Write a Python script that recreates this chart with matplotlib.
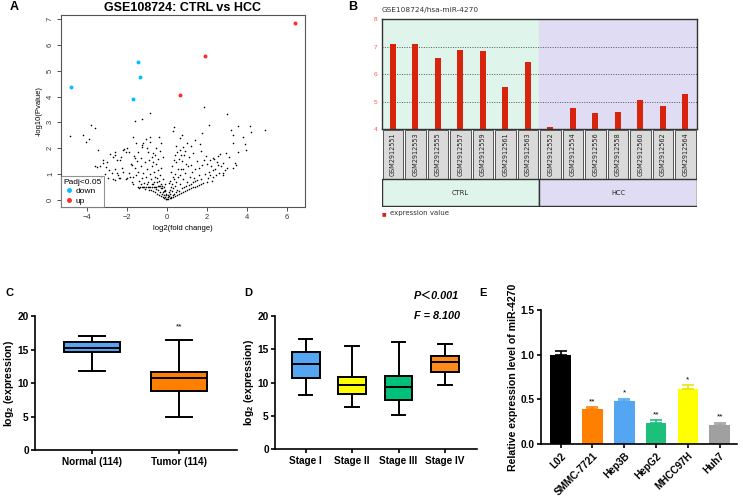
import matplotlib
matplotlib.use('Agg')
import matplotlib.pyplot as plt
from matplotlib.patches import Rectangle
from matplotlib.lines import Line2D

plt.rcParams['font.family'] = ['Liberation Sans', 'DejaVu Sans']
plt.rcParams['mathtext.default'] = 'regular'

# ---------------- Panel A data (volcano) ----------------
down_x = [-4.79, -1.42, -1.35, -1.70]
down_y = [4.35, 5.34, 4.75, 3.90]
up_x = [6.42, 1.90, 0.67]
up_y = [6.83, 5.57, 4.04]
ns_points = [
    (1.88, 3.60), (3.00, 3.32), (-0.83, 3.37), (-1.22, 3.14), (-1.58, 3.06), (-3.78, 2.90),
    (-3.58, 2.77), (-4.83, 2.47), (-4.17, 2.51), (-3.87, 2.34), (-4.03, 2.24), (-3.45, 1.94),
    (-1.70, 2.45), (-0.83, 2.43), (-0.37, 2.43), (0.38, 2.83), (0.33, 2.66), (0.75, 2.51),
    (0.68, 2.41), (2.13, 2.90), (1.75, 2.60), (1.42, 2.32), (1.20, 2.10), (1.67, 2.16),
    (3.20, 2.70), (3.30, 2.52), (3.55, 2.86), (4.13, 2.86), (4.20, 2.63), (4.92, 2.72),
    (3.83, 2.45), (3.92, 2.15), (3.33, 2.19), (3.95, 1.93), (3.55, 1.87), (3.13, 1.67),
    (2.97, 1.83), (2.67, 1.79), (2.33, 1.61), (3.42, 1.44), (3.47, 1.36), (3.33, 1.22),
    (2.83, 1.42), (2.58, 1.35), (2.83, 1.03), (2.33, 1.16), (2.17, 0.97), (2.00, 0.71),
    (-2.83, 1.78), (-2.58, 1.87), (-2.67, 1.67), (-3.00, 1.48), (-3.17, 1.42), (-3.33, 1.33),
    (-3.50, 1.29), (-2.13, 1.96), (-2.03, 1.85), (-2.28, 1.67), (-2.50, 1.54), (-2.22, 1.22),
    (-1.75, 1.35), (-1.58, 1.61), (-1.42, 1.87), (-1.17, 2.21), (-1.22, 2.12), (-1.00, 2.00),
    (-0.75, 1.67), (-0.67, 1.80), (-2.50, 1.03), (-2.33, 0.84), (-2.58, 0.77), (-2.00, 0.84),
    (-1.67, 0.90), (-1.75, 0.71),
    (-3.05, 1.28), (-2.90, 1.15), (-2.75, 1.05), (-2.60, 1.20), (-2.45, 0.95), (-2.20, 1.10),
    (-2.05, 0.80), (-1.90, 1.05), (-1.85, 0.90), (-1.60, 1.25), (-1.55, 0.95), (-1.45, 1.10),
    (-1.40, 0.75), (-1.30, 1.30), (-1.25, 0.85), (-1.20, 1.05), (-1.15, 0.65), (-1.10, 1.45),
    (-1.05, 0.90), (-1.00, 1.20), (-0.95, 0.70), (-0.90, 1.55), (-0.85, 1.00), (-0.80, 0.80),
    (-0.75, 1.30), (-0.70, 0.60), (-0.65, 1.10), (-0.60, 0.90), (-0.55, 1.40), (-0.50, 0.70),
    (-0.45, 1.15), (-0.40, 0.55), (-0.35, 0.95), (-0.30, 1.25), (-0.25, 0.45), (-0.20, 0.80),
    (-0.15, 0.35), (-0.10, 0.60), (-0.05, 0.20),
    (-1.65, 1.72), (-1.30, 1.62), (-0.95, 1.85), (-0.60, 1.75), (-0.55, 2.00), (-0.85, 2.25),
    (-1.25, 2.05), (-0.45, 1.60), (-0.35, 1.90), (-0.70, 1.45), (-1.50, 1.50), (-1.80, 1.40),
    (-2.35, 1.55), (-2.40, 0.85), (-2.70, 0.80), (-3.10, 1.00), (-2.95, 0.85), (-3.30, 0.90),
    (-1.45, 0.50), (-1.35, 0.50), (-1.25, 0.50), (-1.15, 0.50), (-1.05, 0.50), (-0.95, 0.50),
    (-0.85, 0.50), (-0.75, 0.50), (-0.65, 0.51), (-0.55, 0.52), (-0.45, 0.53), (-0.35, 0.55),
    (-0.30, 0.60), (-1.40, 0.48), (-1.20, 0.49), (-0.90, 0.49), (-0.60, 0.50),
    (-1.70, 0.62), (-1.30, 0.60), (-1.00, 0.62), (-0.80, 0.40), (-0.70, 0.35), (-0.60, 0.30),
    (-0.50, 0.25), (-0.45, 0.40), (-0.40, 0.20), (-0.35, 0.30), (-0.30, 0.15), (-0.25, 0.25),
    (-0.20, 0.10), (-0.18, 0.30), (-0.15, 0.18), (-0.12, 0.08), (-0.10, 0.40), (-0.08, 0.12),
    (-0.06, 0.05), (-0.04, 0.25), (-0.02, 0.02), (-0.90, 0.38), (-1.10, 0.42), (-0.55, 0.42),
    (-0.75, 0.60), (-0.65, 0.70), (-0.50, 0.85), (-0.40, 0.75), (-0.30, 0.45), (-0.22, 0.55),
    (-0.15, 0.50), (-0.08, 0.35),
    (0.02, 0.03), (0.04, 0.10), (0.06, 0.20), (0.08, 0.05), (0.10, 0.30), (0.12, 0.15),
    (0.14, 0.40), (0.16, 0.08), (0.18, 0.25), (0.20, 0.50), (0.22, 0.12), (0.25, 0.35),
    (0.28, 0.60), (0.30, 0.18), (0.32, 0.45), (0.35, 0.80), (0.38, 0.25), (0.40, 0.55),
    (0.42, 1.00), (0.45, 0.30), (0.48, 0.70), (0.50, 0.40), (0.55, 0.90), (0.60, 0.35),
    (0.65, 0.60), (0.70, 1.20), (0.75, 0.45), (0.80, 0.80), (0.85, 0.50), (0.90, 1.05),
    (0.95, 0.55), (1.00, 0.70), (1.05, 1.30), (1.10, 0.58), (1.15, 0.90), (1.20, 0.62),
    (1.25, 1.10), (1.30, 0.68), (1.35, 0.85), (1.40, 0.72), (1.50, 0.78), (1.60, 0.95),
    (1.70, 0.82), (1.80, 0.66), (1.90, 1.00), (0.30, 0.90), (0.25, 1.30), (0.35, 1.55),
    (0.40, 1.75), (0.20, 1.10), (0.15, 0.75), (0.10, 0.65), (0.45, 1.45), (0.55, 1.20),
    (0.60, 1.60), (0.65, 0.95), (0.75, 1.50), (0.85, 1.75), (0.80, 1.20), (0.95, 1.40),
    (1.10, 1.65), (1.20, 1.35), (1.30, 1.80), (1.40, 1.20), (1.50, 1.50), (1.60, 1.25),
    (1.70, 1.90), (1.75, 1.35), (1.85, 1.55), (0.50, 1.85), (0.70, 1.75), (0.90, 1.90),
    (0.65, 1.95), (0.45, 2.10), (0.80, 2.05), (1.00, 2.20),
    (0.30, 0.12), (0.50, 0.20), (0.70, 0.28), (0.90, 0.35), (1.10, 0.42), (1.30, 0.50),
    (1.50, 0.55), (0.60, 0.22), (0.80, 0.32), (1.00, 0.38), (1.20, 0.45), (1.40, 0.52),
    (0.40, 0.15), (1.60, 0.58), (1.70, 0.62), (0.20, 0.07),
    (2.05, 0.85), (2.10, 1.10), (2.20, 1.30), (2.30, 0.90), (2.40, 1.20), (2.50, 1.45),
    (2.60, 1.05), (2.70, 1.30), (2.15, 1.55), (2.25, 0.75), (2.45, 0.95), (2.90, 1.15),
    (3.00, 1.25), (2.55, 1.70), (2.00, 1.40), (1.95, 1.70), (2.35, 1.60), (2.80, 0.95),
    (-2.60, 1.75), (-2.20, 1.95), (-1.90, 1.85), (-3.20, 1.55), (-3.60, 1.30), (-2.00, 2.00),
    (-1.55, 2.20), (-1.05, 2.35), (-0.30, 2.20), (-0.20, 1.65),
]

# ---------------- Panel B data (GEO profile) ----------------
gsm_ctrl = ['GSM2912551', 'GSM2912553', 'GSM2912555', 'GSM2912557',
            'GSM2912559', 'GSM2912561', 'GSM2912563']
gsm_hcc = ['GSM2912552', 'GSM2912554', 'GSM2912556', 'GSM2912558',
           'GSM2912560', 'GSM2912562', 'GSM2912564']
expr_ctrl = [7.10, 7.10, 6.59, 6.88, 6.83, 5.55, 6.44]
expr_hcc = [4.08, 4.76, 4.58, 4.62, 5.07, 4.83, 5.28]

# ---------------- Panel C data ----------------
c_labels = ['Normal (114)', 'Tumor (114)']
c_whislo = [11.8, 4.9]
c_q1 = [14.6, 8.9]
c_med = [15.2, 10.7]
c_q3 = [16.1, 11.7]
c_whishi = [17.0, 16.5]
c_colors = ['#55a6f2', '#ff8000']

# ---------------- Panel D data ----------------
d_labels = ['Stage I', 'Stage II', 'Stage III', 'Stage IV']
d_whislo = [8.2, 6.4, 5.1, 9.6]
d_q1 = [10.6, 8.3, 7.4, 11.5]
d_med = [12.8, 9.7, 9.4, 13.0]
d_q3 = [14.5, 10.8, 11.0, 13.9]
d_whishi = [16.5, 15.4, 16.1, 15.7]
d_colors = ['#55a6f2', '#ffff00', '#00c07a', '#ff8c1a']

# ---------------- Panel E data ----------------
e_labels = ['L02', 'SMMC-7721', 'Hep3B', 'HepG2', 'MHCC97H', 'Huh7']
e_values = [1.00, 0.39, 0.48, 0.24, 0.62, 0.21]
e_errors = [0.04, 0.02, 0.03, 0.03, 0.04, 0.03]
e_stars = ['', '**', '*', '**', '*', '**']
e_colors = ['#000000', '#ff8000', '#55a6f2', '#1cc07a', '#ffff00', '#a0a0a0']

W, H = 743, 498
fig = plt.figure(figsize=(W / 100, H / 100), dpi=100)


def box(l, t, r, b):
    return [l / W, 1 - b / H, (r - l) / W, (b - t) / H]


# ================= Panel A =================
axA = fig.add_axes(box(61, 15, 305, 207))
ns_x = [p[0] for p in ns_points]
ns_y = [p[1] for p in ns_points]
axA.scatter(ns_x, ns_y, s=1.3, c='black', linewidths=0)
axA.scatter(down_x, down_y, s=8, c='#00bfff', linewidths=0)
axA.scatter(up_x, up_y, s=8, c='#ff2a2a', linewidths=0)
axA.set_xlim(-5.28, 6.9)
axA.set_ylim(-0.27, 7.15)
axA.set_xticks([-4, -2, 0, 2, 4, 6])
axA.set_yticks(range(0, 8))
axA.tick_params(direction='out', length=3, width=0.6, labelsize=5.4, pad=2, colors='#333')
for lab in axA.get_yticklabels():
    lab.set_rotation(90)
    lab.set_va('center')
for s in axA.spines.values():
    s.set_color('#555')
    s.set_linewidth(0.8)
axA.set_title('GSE108724: CTRL vs HCC', fontsize=9, fontweight='bold', pad=3)
axA.set_xlabel('log2(fold change)', fontsize=5.5, labelpad=3)
axA.set_ylabel('-log10(Pvalue)', fontsize=5.5, labelpad=3)
handles = [Line2D([], [], marker='o', ls='', color='#00bfff', markersize=2.5),
           Line2D([], [], marker='o', ls='', color='#ff2a2a', markersize=2.5)]
leg = axA.legend(handles, ['down', 'up'], title='Padj<0.05', loc='lower left',
                 borderaxespad=0, fontsize=6, title_fontsize=6, frameon=True,
                 fancybox=False, edgecolor='#777', handletextpad=0.3,
                 handlelength=1.2, borderpad=0.3, labelspacing=0.2, alignment='left')
leg.get_frame().set_linewidth(0.8)

# ================= Panel B =================
bl, br = 381.7, 696.7
axB = fig.add_axes(box(bl, 19.3, br, 129.3))
n_c = len(expr_ctrl)
n_all = n_c + len(expr_hcc)
axB.axvspan(0, n_c, color='#dff4ea', zorder=0)
axB.axvspan(n_c, n_all, color='#dfdcf4', zorder=0)
for yv in (5, 6, 7):
    axB.axhline(yv, ls=(0, (1, 1.5)), color='#555', lw=0.7, zorder=1)
xs = [i + 0.5 for i in range(n_all)]
axB.bar(xs, expr_ctrl + expr_hcc, width=0.27, color='#d8240c', zorder=2)
axB.set_xlim(0, n_all)
axB.set_ylim(4, 8)
axB.set_xticks([])
axB.set_yticks([4, 5, 6, 7, 8])
axB.tick_params(axis='y', length=0, labelsize=4.6, labelcolor='#ff5050', pad=3)
for s in axB.spines.values():
    s.set_color('#333')
    s.set_linewidth(1.0)
fig.text(bl / W, 1 - 10 / H, 'GSE108724/hsa-miR-4270', fontsize=5.3,
         family='DejaVu Sans', va='center', ha='left', color='#333')

axT = fig.add_axes(box(bl, 129.3, br, 206.7))
axT.set_xlim(0, n_all)
axT.set_ylim(0, 77.4)
axT.axis('off')
for i, g in enumerate(gsm_ctrl + gsm_hcc):
    axT.add_patch(Rectangle((i + 0.04, 28.2), 0.92, 48.8, fc='#dadada', ec='#555', lw=0.7))
    axT.text(i + 0.5, 52.5, g, rotation=90, ha='center', va='center',
             fontsize=4.7, family='DejaVu Sans', color='#222')
axT.add_patch(Rectangle((0, 0.5), n_c, 27.2, fc='#dff4ea', ec='#333', lw=1.0))
axT.add_patch(Rectangle((n_c, 0.5), n_all - n_c, 27.2, fc='#dfdcf4', ec='#333', lw=1.0))
axT.text(n_c / 2, 14, 'CTRL', ha='center', va='center', fontsize=4.8,
         family='DejaVu Sans', color='#222')
axT.text(n_c + (n_all - n_c) / 2, 14, 'HCC', ha='center', va='center', fontsize=4.8,
         family='DejaVu Sans', color='#222')
fig.text(381.5 / W, 1 - 213.5 / H, '\u25a0', fontsize=3.5, color='#e02010',
         va='center', ha='left', family='DejaVu Sans')
fig.text(390 / W, 1 - 213.5 / H, 'expression value', fontsize=5.0, color='#333',
         va='center', ha='left', family='DejaVu Sans')


def style_prism(ax):
    for side in ('top', 'right'):
        ax.spines[side].set_visible(False)
    for side in ('left', 'bottom'):
        ax.spines[side].set_linewidth(1.2)
        ax.spines[side].set_color('black')
    ax.tick_params(direction='out', length=3, width=1.2, labelsize=7.3, pad=1.5)
    ax.tick_params(axis='x', labelsize=7.2, pad=2)
    for lab in ax.get_xticklabels() + ax.get_yticklabels():
        lab.set_fontweight('bold')


def boxplot(ax, labels, wl, q1, md, q3, wh, colors, width, capw):
    stats = [dict(label=labels[i], whislo=wl[i], q1=q1[i], med=md[i], q3=q3[i],
                  whishi=wh[i]) for i in range(len(labels))]
    lw = 1.4
    res = ax.bxp(stats, positions=list(range(len(labels))), widths=width,
                 patch_artist=True, showfliers=False, capwidths=capw,
                 boxprops=dict(linewidth=lw, edgecolor='black'),
                 medianprops=dict(linewidth=lw, color='black'),
                 whiskerprops=dict(linewidth=lw, color='black'),
                 capprops=dict(linewidth=lw, color='black'))
    for p, c in zip(res['boxes'], colors):
        p.set_facecolor(c)


# ================= Panel C =================
axC = fig.add_axes(box(35, 316, 236.7, 450.3))
boxplot(axC, c_labels, c_whislo, c_q1, c_med, c_q3, c_whishi, c_colors, 0.646, 0.3)
axC.set_xlim(-0.661, 1.665)
axC.set_ylim(0, 20)
axC.set_yticks([0, 5, 10, 15, 20])
style_prism(axC)
axC.set_ylabel('log$_2$ (expression)', fontsize=7.6, fontweight='bold', labelpad=1)
axC.text(1, 18.4, '**', ha='center', va='center', fontsize=6)

# ================= Panel D =================
axD = fig.add_axes(box(275, 315.7, 476.7, 449.3))
boxplot(axD, d_labels, d_whislo, d_q1, d_med, d_q3, d_whishi, d_colors, 0.6, 0.29)
axD.set_xlim(-0.662, 3.685)
axD.set_ylim(0, 20)
axD.set_yticks([0, 5, 10, 15, 20])
style_prism(axD)
axD.set_ylabel('log$_2$ (expression)', fontsize=7.6, fontweight='bold', labelpad=1)
fig.text(436.5 / W, 1 - 296 / H, 'P\uff1c0.001', fontsize=7.8, fontweight='bold',
         style='italic', ha='center', va='center',
         family=['Liberation Sans', 'Noto Sans CJK SC'])
fig.text(436.5 / W, 1 - 316 / H, 'F = 8.100', fontsize=7.8, fontweight='bold',
         style='italic', ha='center', va='center')

# ================= Panel E =================
axE = fig.add_axes(box(540.7, 310.3, 736.7, 444))
ex = list(range(len(e_labels)))
axE.bar(ex, e_values, width=0.65, color=e_colors, zorder=2)
for i in ex:
    axE.errorbar(i, e_values[i], yerr=[[0], [e_errors[i]]], fmt='none',
                 ecolor=e_colors[i] if e_colors[i] != '#ffff00' else '#e6e600',
                 elinewidth=1.2, capsize=4, capthick=1.2, zorder=3)
    if e_stars[i]:
        axE.text(i, e_values[i] + e_errors[i] + 0.06, e_stars[i], ha='center',
                 va='center', fontsize=6)
axE.set_xlim(-0.629, 5.535)
axE.set_ylim(0, 1.5)
axE.set_yticks([0, 0.5, 1.0, 1.5])
axE.set_yticklabels(['0.0', '0.5', '1.0', '1.5'])
axE.set_xticks(ex)
axE.set_xticklabels(e_labels, rotation=45, ha='right', rotation_mode='anchor')
style_prism(axE)
axE.set_ylabel('Relative expression level of miR-4270', fontsize=7.6,
               fontweight='bold', labelpad=2)

# ================= Panel letters =================
for letter, x, y, fs in [('A', 14, 7, 9), ('B', 353, 7, 9), ('C', 10, 293, 8),
                         ('D', 248, 293, 8), ('E', 483, 293, 8)]:
    fig.text(x / W, 1 - y / H, letter, fontsize=fs, fontweight='bold',
             ha='center', va='center')

fig.savefig('out.png', dpi=100)
